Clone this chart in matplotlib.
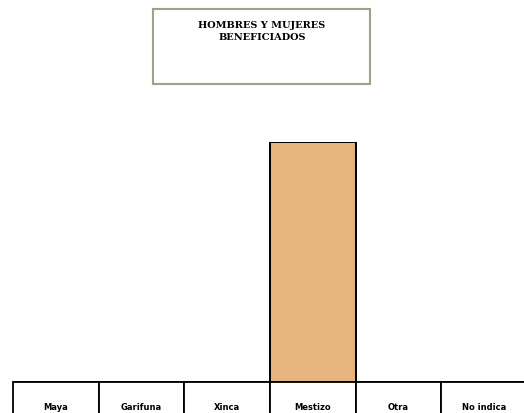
import matplotlib.pyplot as plt
from matplotlib.patches import Rectangle

categorias = ["Maya", "Garifuna", "Xinca", "Mestizo", "Otra", "No indica"]
valores = [0, 0, 0, 1, 0, 0]
titulo = "HOMBRES Y MUJERES\nBENEFICIADOS"

W, H = 524, 414
fig = plt.figure(figsize=(W / 100, H / 100), dpi=100)

# axes: left 13px, right 527px (past the edge), bottom 383px, top 143px
ax = fig.add_axes([13 / W, (H - 383) / H, 514 / W, 240 / H])
x = list(range(len(categorias)))
ax.bar(x, valores, width=1.0, color="#E6B47F", edgecolor="black", linewidth=1.4)
ax.set_xlim(-0.5, len(categorias) - 0.5)
ax.set_ylim(0, 1)
ax.axis("off")

tabla = ax.table(cellText=[categorias], cellLoc="center",
                 bbox=[0, -50 / 240, 1, 50 / 240])
tabla.auto_set_font_size(False)
for (r, c), cell in tabla.get_celld().items():
    cell.set_linewidth(1.3)
    cell.set_edgecolor("black")
    cell.get_text().set_fontsize(6)
    cell.get_text().set_fontweight("bold")
    cell.get_text().set_family("DejaVu Sans")
tabla.set_clip_on(False)

# title box
fig.patches.append(Rectangle((153 / W, (H - 85) / H), 217 / W, 75 / H,
                             transform=fig.transFigure, fill=False,
                             edgecolor="#9CA38A", linewidth=1.5))
fig.text(262 / W, (H - 21) / H, titulo, ha="center", va="top",
         fontsize=7, fontweight="bold", family="DejaVu Serif",
         linespacing=1.45)

fig.savefig("out.png", dpi=100)
